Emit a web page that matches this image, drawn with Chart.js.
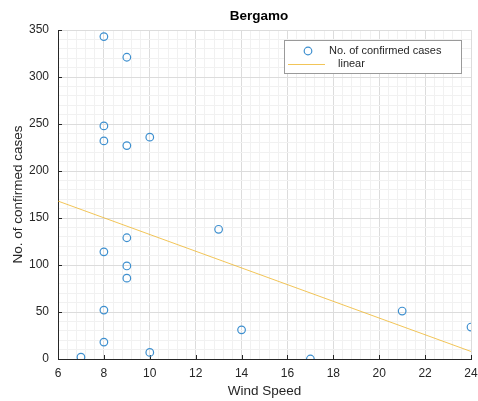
<!DOCTYPE html>
<html>
<head>
<meta charset="utf-8">
<script src="https://cdn.jsdelivr.net/npm/chart.js@4/dist/chart.umd.min.js"></script>
<style>
  html, body { margin: 0; padding: 0; background: #ffffff; }
  #wrap { width: 478px; height: 401px; position: relative; }
</style>
</head>
<body>
<div id="wrap"><canvas id="c" width="478" height="401"></canvas></div>
<script>
// ---- data ----
const chartTitle = "Bergamo";
const xAxisLabel = "Wind Speed";
const yAxisLabel = "No. of confirmed cases";
const casesLabel = "No. of confirmed cases";
const fitLabel = "linear";

const windSpeed = [8, 9, 8, 8, 9, 10, 13, 8, 9, 9, 9, 8, 8, 7, 10, 14, 17, 21, 24];
const confirmedCases = [343, 321, 248, 232, 227, 236, 138, 114, 129, 99, 86, 52, 18, 2, 7, 31, 0, 51, 34];

const fitX = [6, 24];
const fitY = [168, 8];

const xMin = 6, xMax = 24, xMajor = 2, xMinor = 0.4;
const yMin = 0, yMax = 350, yMajor = 50, yMinor = 10;

// ---- styling ----
const FONT = "'Liberation Sans', Arial, Helvetica, sans-serif";
const TEXT = '#262626';
const AXIS = '#262626';
const MAJOR_GRID = '#dcdcdc';
const MINOR_GRID = '#f1f1f1';
const BLUE = '#3d8fcf';
const YELLOW = 'rgba(237,177,32,0.75)';

function isMajor(v, step) {
  const r = v / step;
  return Math.abs(r - Math.round(r)) < 1e-6;
}

const scatterPoints = windSpeed.map((x, i) => ({ x: x, y: confirmedCases[i] }));
const fitPoints = fitX.map((x, i) => ({ x: x, y: fitY[i] }));

const innerTicks = {
  id: 'innerTicks',
  beforeDatasetsDraw(chart) {
    const { ctx, chartArea } = chart;
    const xs = chart.scales.x, ys = chart.scales.y;
    ctx.save();
    ctx.strokeStyle = AXIS;
    ctx.lineWidth = 1;
    ctx.beginPath();
    for (let v = xMin; v <= xMax + 1e-9; v += xMajor) {
      const px = Math.round(xs.getPixelForValue(v)) + 0.5;
      ctx.moveTo(px, chartArea.bottom);
      ctx.lineTo(px, chartArea.bottom - 4);
    }
    for (let v = yMin; v <= yMax + 1e-9; v += yMajor) {
      const py = Math.round(ys.getPixelForValue(v)) + 0.5;
      ctx.moveTo(chartArea.left, py);
      ctx.lineTo(chartArea.left + 4, py);
    }
    ctx.stroke();
    ctx.restore();
  }
};

const boxLegendAndTitle = {
  id: 'boxLegendAndTitle',
  afterDraw(chart) {
    const { ctx } = chart;
    ctx.save();
    // title
    ctx.fillStyle = '#000';
    ctx.font = 'bold 13.5px ' + FONT;
    ctx.textAlign = 'center';
    ctx.textBaseline = 'middle';
    ctx.fillText(chartTitle, 259, 16);

    // legend box
    const bx = 284.5, by = 40.5, bw = 177, bh = 33;
    ctx.fillStyle = '#ffffff';
    ctx.fillRect(bx, by, bw, bh);
    ctx.strokeStyle = '#9a9a9a';
    ctx.lineWidth = 1;
    ctx.strokeRect(bx, by, bw, bh);

    const ds0 = chart.data.datasets[0];
    const ds1 = chart.data.datasets[1];
    // marker entry
    ctx.strokeStyle = ds0.borderColor;
    ctx.lineWidth = ds0.borderWidth;
    ctx.beginPath();
    ctx.arc(308, 51, 3.8, 0, Math.PI * 2);
    ctx.stroke();
    // line entry
    ctx.strokeStyle = ds1.borderColor;
    ctx.lineWidth = ds1.borderWidth;
    ctx.beginPath();
    ctx.moveTo(288, 64.5);
    ctx.lineTo(325, 64.5);
    ctx.stroke();

    ctx.fillStyle = TEXT;
    ctx.font = '11px ' + FONT;
    ctx.textAlign = 'left';
    ctx.textBaseline = 'middle';
    ctx.fillText(ds0.label, 329, 51);
    ctx.fillText(ds1.label, 338, 64);
    ctx.restore();
  }
};

new Chart(document.getElementById('c'), {
  type: 'scatter',
  data: {
    datasets: [
      {
        label: casesLabel,
        data: scatterPoints,
        pointStyle: 'circle',
        pointRadius: 3.8,
        pointHoverRadius: 3.8,
        pointBorderWidth: 1.2,
        borderWidth: 1.2,
        borderColor: BLUE,
        backgroundColor: 'rgba(0,0,0,0)',
        showLine: false,
        order: 1
      },
      {
        label: fitLabel,
        data: fitPoints,
        type: 'line',
        showLine: true,
        borderColor: YELLOW,
        borderWidth: 1,
        pointRadius: 0,
        fill: false,
        order: 2
      }
    ]
  },
  options: {
    responsive: false,
    animation: false,
    devicePixelRatio: 1,
    layout: { padding: { top: 30, right: 7, bottom: 0, left: 0 } },
    plugins: {
      legend: { display: false },
      title: { display: false },
      tooltip: { enabled: false }
    },
    scales: {
      x: {
        type: 'linear',
        min: xMin,
        max: xMax,
        afterFit(scale) { scale.height = 42; scale.paddingLeft = 0; scale.paddingRight = 0; },
        border: { display: true, color: AXIS, width: 1 },
        grid: {
          drawTicks: false,
          color: (c) => isMajor(c.tick.value, xMajor) ? MAJOR_GRID : MINOR_GRID,
          lineWidth: 1
        },
        ticks: {
          stepSize: xMinor,
          autoSkip: false,
          maxRotation: 0,
          padding: 7,
          color: TEXT,
          font: { family: FONT, size: 12 },
          callback: (v) => isMajor(v, xMajor) ? String(Math.round(v)) : ''
        },
        title: {
          display: true,
          text: xAxisLabel,
          color: TEXT,
          font: { family: FONT, size: 13.5 },
          padding: { top: 0, bottom: 2 }
        }
      },
      y: {
        type: 'linear',
        min: yMin,
        max: yMax,
        afterFit(scale) { scale.width = 58; scale.paddingTop = 0; scale.paddingBottom = 0; },
        border: { display: true, color: AXIS, width: 1 },
        grid: {
          drawTicks: false,
          color: (c) => isMajor(c.tick.value, yMajor) ? MAJOR_GRID : MINOR_GRID,
          lineWidth: 1
        },
        ticks: {
          stepSize: yMinor,
          autoSkip: false,
          padding: 9,
          color: TEXT,
          font: { family: FONT, size: 12 },
          callback: (v) => isMajor(v, yMajor) ? String(Math.round(v)) : ''
        },
        title: {
          display: true,
          text: yAxisLabel,
          color: TEXT,
          font: { family: FONT, size: 13.5 },
          padding: { top: 10, bottom: 0 }
        }
      }
    }
  },
  plugins: [innerTicks, boxLegendAndTitle]
});
</script>
</body>
</html>
